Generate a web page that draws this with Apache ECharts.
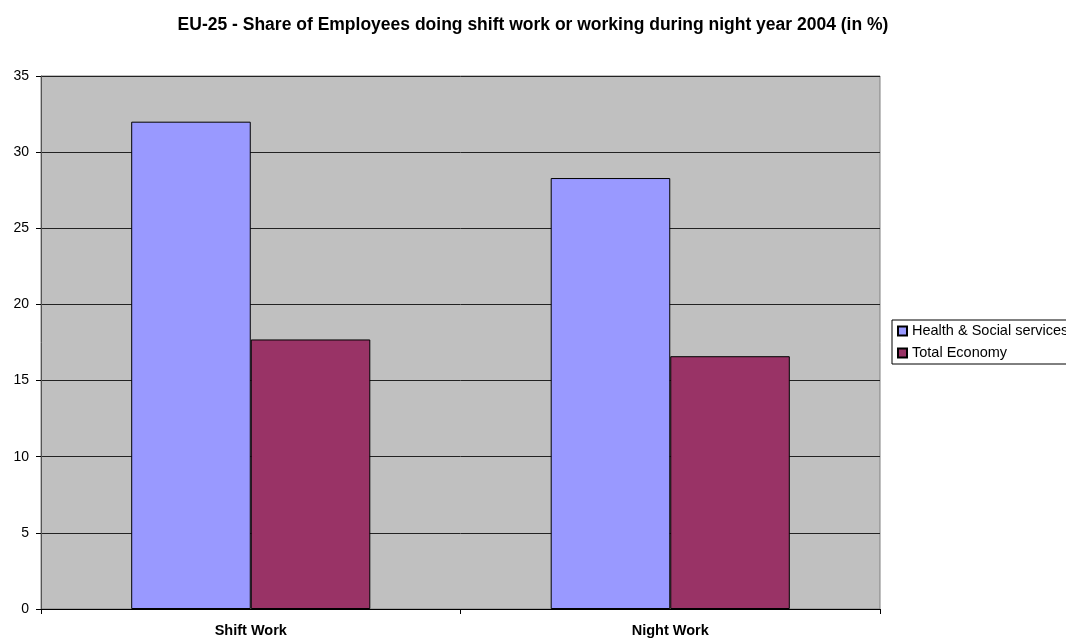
<!DOCTYPE html>
<html>
<head>
<meta charset="utf-8">
<style>
  html, body { margin: 0; padding: 0; background: #ffffff; }
  #chart { width: 1066px; height: 639px; }
</style>
<script src="https://cdn.jsdelivr.net/npm/echarts@6/dist/echarts.min.js"></script>
</head>
<body>
<div id="chart"></div>
<script>
// Work categories and the share of employees (%) for each group
const categories = ['Shift Work', 'Night Work'];
const healthSocial = [32.0, 28.3];
const totalEconomy = [17.7, 16.6];
const seriesNames = ['Health & Social services', 'Total Economy'];

const FONT = 'Liberation Sans, Arial, sans-serif';
const chart = echarts.init(document.getElementById('chart'));

const barStyle = (color) => ({
  color: color,
  borderColor: '#000000',
  borderWidth: 1
});

chart.setOption({
  backgroundColor: '#ffffff',
  animation: false,
  textStyle: { fontFamily: FONT },
  title: {
    text: 'EU-25 - Share of Employees doing shift work or working during night year 2004 (in %)',
    left: 'center',
    top: 11,
    textStyle: { fontSize: 17.5, fontWeight: 'bold', color: '#000000', fontFamily: FONT }
  },
  grid: {
    left: 41, right: 186, top: 76, bottom: 30,
    show: true,
    backgroundColor: '#C0C0C0',
    borderColor: '#808080',
    borderWidth: 1
  },
  legend: {
    orient: 'vertical',
    left: 892,
    top: 320,
    padding: [2, 60, 2, 5],
    itemGap: 4,
    itemWidth: 9,
    itemHeight: 9,
    borderColor: '#000000',
    borderWidth: 1,
    backgroundColor: '#ffffff',
    icon: 'rect',
    textStyle: { fontSize: 14.5, lineHeight: 18, color: '#000000', fontFamily: FONT },
    data: seriesNames
  },
  xAxis: {
    type: 'category',
    data: categories,
    axisLine: { show: true, lineStyle: { color: '#000000', width: 1 } },
    axisTick: { show: true, length: 5, lineStyle: { color: '#000000' } },
    axisLabel: { fontSize: 14.5, fontWeight: 'bold', color: '#000000', margin: 14, fontFamily: FONT },
    splitLine: { show: false }
  },
  yAxis: {
    type: 'value',
    min: 0,
    max: 35,
    interval: 5,
    axisLine: { show: true, lineStyle: { color: '#555555', width: 1 } },
    axisTick: { show: true, length: 5, lineStyle: { color: '#000000' } },
    axisLabel: { fontSize: 14, color: '#000000', margin: 12, fontFamily: FONT },
    splitLine: { show: true, lineStyle: { color: '#222222', width: 1 } }
  },
  series: [
    {
      name: seriesNames[0],
      type: 'bar',
      data: healthSocial,
      barGap: '0%',
      barCategoryGap: '43%',
      itemStyle: barStyle('#9999FF')
    },
    {
      name: seriesNames[1],
      type: 'bar',
      data: totalEconomy,
      barGap: '0%',
      barCategoryGap: '43%',
      itemStyle: barStyle('#993366')
    }
  ]
});
</script>
</body>
</html>
